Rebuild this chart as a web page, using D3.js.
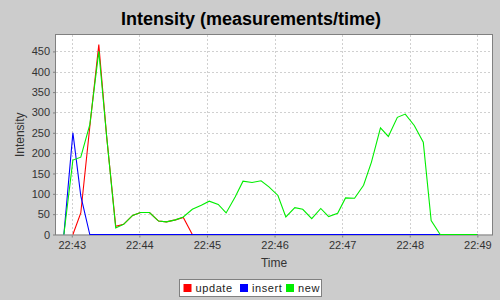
<!DOCTYPE html>
<meta charset="utf-8">
<style>
body { margin: 0; background: #cccccc; }
text { font-family: "Liberation Sans", Arial, sans-serif; }
.grid line { stroke: #c4c4c4; stroke-dasharray: 2,2; stroke-width: 0.8; }
</style>
<body>
<script src="https://d3js.org/d3.v7.min.js"></script>
<script>

// sample times (hh:mm:ss)
var times = ["22:42:53","22:43:01","22:43:08","22:43:16","22:43:24","22:43:31","22:43:39","22:43:46",
  "22:43:54","22:44:01","22:44:09","22:44:17","22:44:24","22:44:32","22:44:39","22:44:47",
  "22:44:55","22:45:02","22:45:10","22:45:17","22:45:25","22:45:32","22:45:40","22:45:48",
  "22:45:55","22:46:03","22:46:10","22:46:18","22:46:25","22:46:33","22:46:41","22:46:48",
  "22:46:56","22:47:03","22:47:11","22:47:19","22:47:26","22:47:34","22:47:41","22:47:49",
  "22:47:56","22:48:04","22:48:12","22:48:19","22:48:27","22:48:34","22:48:42","22:48:50","22:49:00"];

var update = [null, 0, 53, 265, 467, 240, 20, 25, 47, 54, 54, 33, 31, 36, 42, 0,
  0, 0, 0, 0, 0, 0, 0, 0, 0, 0, 0, 0, 0, 0, 0, 0, 0, 0, 0, 0, 0, 0, 0, 0,
  0, 0, 0, 0, 0, 0, 0, 0, 0];
var insert = [0, 250, 95, 0, 0, 0, 0, 0, 0, 0, 0, 0, 0, 0, 0, 0,
  0, 0, 0, 0, 0, 0, 0, 0, 0, 0, 0, 0, 0, 0, 0, 0, 0, 0, 0, 0, 0, 0, 0, 0,
  0, 0, 0, 0, 0, 0, 0, 0, 0];
var newer = [0, 183, 190, 270, 450, 240, 16, 25, 47, 54, 54, 33, 31, 36, 43, 62,
  72, 82, 74, 53, 92, 131, 128, 132, 117, 96, 43, 66, 62, 39, 64, 44,
  52, 90, 89, 121, 178, 262, 241, 288, 296, 268, 227, 34, 0, 0, 0, 0, 0];

var seriesNames = ["update", "insert", "new"];
var seriesColors = ["#ff0000", "#0000ff", "#00ee00"];
var yTicks = [0, 50, 100, 150, 200, 250, 300, 350, 400, 450];
var xTicks = ["22:43", "22:44", "22:45", "22:46", "22:47", "22:48", "22:49"];

var W = 500, H = 300;
var plot = {left: 56, top: 35, right: 492, bottom: 234.5};

var parse = d3.timeParse("%H:%M:%S");
var parseM = d3.timeParse("%H:%M");
var t = times.map(parse);

var x = d3.scaleTime()
    .domain([parse("22:42:46"), parse("22:49:13")])
    .range([plot.left, plot.right]);
var y = d3.scaleLinear()
    .domain([0, 490.35])
    .range([plot.bottom, plot.top]);

var svg = d3.select("body").append("svg")
    .attr("width", W)
    .attr("height", H);

svg.append("rect").attr("width", W).attr("height", H).attr("fill", "#cccccc");

// title
svg.append("text")
    .attr("x", 251).attr("y", 25)
    .attr("text-anchor", "middle")
    .style("font-size", "18px")
    .style("font-weight", "bold")
    .text("Intensity (measurements/time)");

// plot background
svg.append("rect")
    .attr("x", plot.left).attr("y", plot.top)
    .attr("width", plot.right - plot.left).attr("height", plot.bottom - plot.top)
    .attr("fill", "#ffffff");

// gridlines
var grid = svg.append("g").attr("class", "grid");
grid.selectAll("line.h").data(yTicks.slice(1)).enter().append("line")
    .attr("x1", plot.left).attr("x2", plot.right)
    .attr("y1", function(d) { return Math.round(y(d)) + 0.5; })
    .attr("y2", function(d) { return Math.round(y(d)) + 0.5; });
grid.selectAll("line.v").data(xTicks).enter().append("line")
    .attr("y1", plot.top).attr("y2", plot.bottom)
    .attr("x1", function(d) { return Math.round(x(parseM(d))) + 0.5; })
    .attr("x2", function(d) { return Math.round(x(parseM(d))) + 0.5; });

// plot outline
svg.append("rect")
    .attr("x", plot.left - 0.5).attr("y", plot.top - 0.5)
    .attr("width", plot.right - plot.left + 1).attr("height", plot.bottom - plot.top + 1)
    .attr("fill", "none").attr("stroke", "#808080");

// axes
var yAxis = svg.append("g")
    .attr("transform", "translate(" + (plot.left - 1) + ",0)")
    .call(d3.axisLeft(y).tickValues(yTicks).tickSize(2).tickPadding(3));
var xAxis = svg.append("g")
    .attr("transform", "translate(0," + (plot.bottom + 1) + ")")
    .call(d3.axisBottom(x).tickValues(xTicks.map(parseM)).tickFormat(d3.timeFormat("%H:%M")).tickSize(2).tickPadding(4));
[yAxis, xAxis].forEach(function(a) {
  a.select(".domain").remove();
  a.selectAll("line").attr("stroke", "#808080");
  a.selectAll("text").style("font-size", "11px").attr("fill", "#333333")
      .style("font-family", "'Liberation Sans', Arial, sans-serif");
});

// axis labels
svg.append("text")
    .attr("transform", "translate(24," + ((plot.top + plot.bottom) / 2) + ") rotate(-90)")
    .attr("text-anchor", "middle")
    .style("font-size", "12px")
    .attr("fill", "#333333")
    .text("Intensity");
svg.append("text")
    .attr("x", (plot.left + plot.right) / 2).attr("y", 267)
    .attr("text-anchor", "middle")
    .style("font-size", "12px")
    .attr("fill", "#333333")
    .text("Time");

// series lines
var line = d3.line()
    .defined(function(d) { return d.v !== null; })
    .x(function(d) { return x(d.t); })
    .y(function(d) { return y(d.v); });

var series = [update, insert, newer];
var clip = svg.append("clipPath").attr("id", "clip").append("rect")
    .attr("x", plot.left).attr("y", plot.top - 1)
    .attr("width", plot.right - plot.left).attr("height", plot.bottom - plot.top + 2);

series.forEach(function(vals, k) {
  var pts = vals.map(function(v, i) { return {t: t[i], v: v}; });
  svg.append("path")
      .datum(pts)
      .attr("clip-path", "url(#clip)")
      .attr("fill", "none")
      .attr("stroke", seriesColors[k])
      .attr("stroke-width", 1.1)
      .attr("d", line);
});

// legend
var lg = svg.append("g");
lg.append("rect")
    .attr("x", 179.5).attr("y", 279.5).attr("width", 142).attr("height", 17)
    .attr("fill", "#ffffff").attr("stroke", "#808080");
var legendX = [183.5, 240, 286];
seriesNames.forEach(function(n, k) {
  lg.append("rect")
      .attr("x", legendX[k]).attr("y", 284)
      .attr("width", 8).attr("height", 8)
      .attr("fill", seriesColors[k]);
  lg.append("text")
      .attr("x", legendX[k] + 12).attr("y", 292)
      .style("font-size", "11px")
      .style("letter-spacing", "0.6px")
      .attr("fill", "#222222")
      .text(n);
});

</script>
</body>
